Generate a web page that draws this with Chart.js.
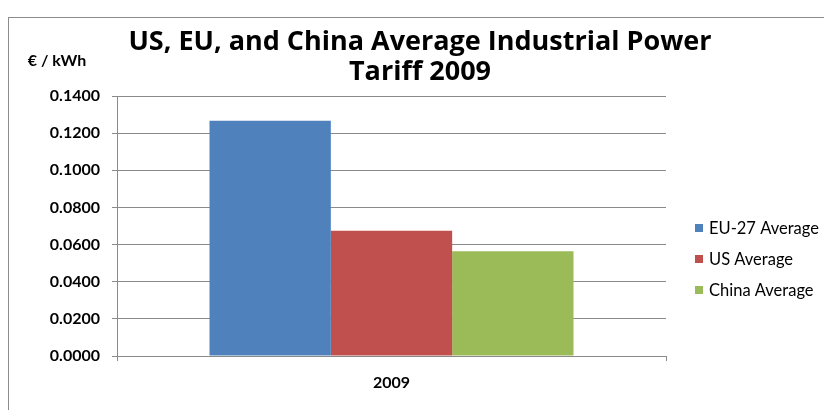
<!DOCTYPE html>
<html>
<head>
<meta charset="utf-8">
<script src="https://cdn.jsdelivr.net/npm/chart.js@4.4.1/dist/chart.umd.min.js"></script>
<style>
  html, body { margin: 0; padding: 0; background: #ffffff; }
  #wrap { width: 824px; height: 410px; position: relative; }
</style>
</head>
<body>
<div id="wrap"><canvas id="c" width="824" height="410"></canvas></div>
<script>
const categories = ['2009'];
const seriesNames = ['EU-27 Average', 'US Average', 'China Average'];
const euValues = [0.1267];
const usValues = [0.0674];
const chinaValues = [0.0564];
const seriesColors = ['#4F81BD', '#C0504D', '#9BBB59'];
const titleLines = ['US, EU, and China Average Industrial Power', 'Tariff 2009'];
const unitLabel = '€ / kWh';

const FONT = 'Lato, "Open Sans", sans-serif';
const TITLE_FONT = '"Open Sans", Lato, sans-serif';
const GRID = '#8a8a8a';

const decorPlugin = {
  id: 'decor',
  beforeDraw(chart) {
    const ctx = chart.ctx;
    ctx.save();
    ctx.strokeStyle = '#8c8c8c';
    ctx.lineWidth = 1;
    ctx.strokeRect(8.5, 17.5, 900, 500);
    ctx.restore();
  },
  afterDraw(chart) {
    const ctx = chart.ctx;
    const ca = chart.chartArea;
    ctx.save();
    // unit label above the value axis
    ctx.fillStyle = '#000000';
    ctx.font = 'bold 16px ' + FONT;
    ctx.textAlign = 'center';
    ctx.textBaseline = 'middle';
    ctx.fillText(unitLabel, ca.left - 60, ca.top - 35);
    // legend drawn from the datasets
    ctx.font = '16.5px ' + FONT;
    ctx.textAlign = 'left';
    const x0 = ca.right + 29;
    const y0 = ca.top + 132;
    chart.data.datasets.forEach((ds, i) => {
      const y = y0 + i * 31;
      ctx.fillStyle = ds.backgroundColor;
      ctx.fillRect(x0, y - 4, 8, 8);
      ctx.fillStyle = '#000000';
      ctx.fillText(ds.label, x0 + 14, y + 1);
    });
    ctx.restore();
  }
};

new Chart(document.getElementById('c'), {
  type: 'bar',
  data: {
    labels: categories,
    datasets: [
      { label: seriesNames[0], data: euValues, backgroundColor: seriesColors[0] },
      { label: seriesNames[1], data: usValues, backgroundColor: seriesColors[1] },
      { label: seriesNames[2], data: chinaValues, backgroundColor: seriesColors[2] }
    ]
  },
  options: {
    responsive: false,
    animation: false,
    layout: { padding: { left: 16, right: 0, top: 0, bottom: 0 } },
    datasets: { bar: { categoryPercentage: 0.663, barPercentage: 1.0, borderWidth: 0 } },
    plugins: {
      legend: { display: false },
      tooltip: { enabled: false },
      title: {
        display: true,
        text: titleLines,
        color: '#000000',
        font: { family: TITLE_FONT, size: 27, weight: 'bold', lineHeight: '30px' },
        padding: { top: 27, bottom: 9 }
      }
    },
    scales: {
      x: {
        offset: true,
        grid: { display: true, drawOnChartArea: false, offset: true, tickLength: 5, color: GRID },
        border: { display: true, color: GRID, width: 1 },
        ticks: { color: '#000000', padding: 12, font: { family: FONT, size: 16, weight: 'bold' } },
        afterFit(scale) { scale.height = 54; }
      },
      y: {
        min: 0,
        max: 0.14,
        ticks: {
          stepSize: 0.02,
          color: '#000000',
          padding: 12,
          font: { family: FONT, size: 16, weight: 'bold' },
          callback: (v) => Number(v).toFixed(4)
        },
        grid: { color: GRID, tickLength: 5, lineWidth: 1 },
        border: { display: true, color: GRID, width: 1 },
        afterFit(scale) { scale.width = 101; }
      },
      yRight: {
        position: 'right',
        display: true,
        grid: { display: false },
        border: { display: false },
        ticks: { display: false },
        afterFit(scale) { scale.width = 158; }
      }
    }
  },
  plugins: [decorPlugin]
});
</script>
</body>
</html>
